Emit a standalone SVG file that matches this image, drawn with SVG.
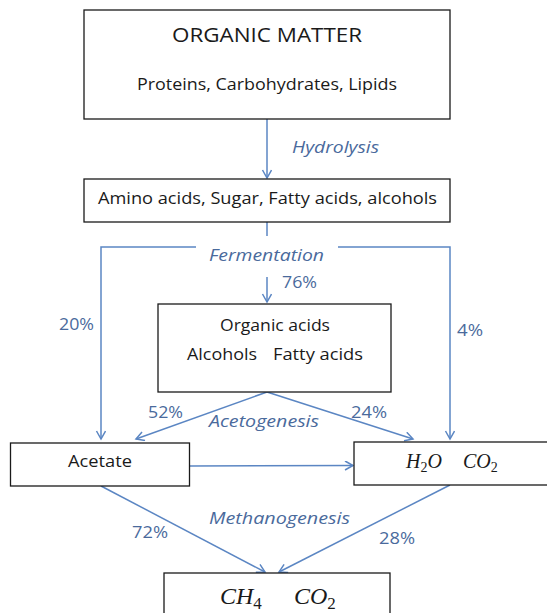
<svg xmlns="http://www.w3.org/2000/svg" width="547" height="613" viewBox="0 0 547 613">
<style>
.box{fill:#fff;stroke:#1a1a1a;stroke-width:1.3}
.t{font-family:"Open Sans","Liberation Sans",sans-serif;fill:#1a1a1a;text-anchor:middle}
.tl{font-family:"Open Sans","Liberation Sans",sans-serif;fill:#1a1a1a}
.lbl{font-family:"Open Sans","Liberation Sans",sans-serif;fill:#4A6A9C;font-size:16px}
.it{font-style:italic}
.m{font-family:"Liberation Serif","DejaVu Serif",serif;font-style:italic;fill:#1a1a1a}
.c{fill:none;stroke:#5B86C3;stroke-width:1.5}
</style>
<defs>
<marker id="ah" markerUnits="userSpaceOnUse" markerWidth="12" markerHeight="12" refX="9" refY="5" orient="auto">
<path d="M1,0.5 L9,5 L1,9.5" fill="none" stroke="#5B86C3" stroke-width="1.5"/>
</marker>
</defs>
<rect width="547" height="613" fill="#fff"/>
<g id="connectors">
<path class="c" d="M267,119 V178" marker-end="url(#ah)"/>
<path class="c" d="M267,222 V236"/>
<path class="c" d="M196,247 H101 V439" marker-end="url(#ah)"/>
<path class="c" d="M338,247 H450 V439" marker-end="url(#ah)"/>
<path class="c" d="M267,277 V302" marker-end="url(#ah)"/>
<path class="c" d="M267,392 L136,439" marker-end="url(#ah)"/>
<path class="c" d="M267,392 L413,439" marker-end="url(#ah)"/>
<path class="c" d="M190,466 L353,465.5" marker-end="url(#ah)"/>
<path class="c" d="M101,486 L265,572" marker-end="url(#ah)"/>
<path class="c" d="M450,485 L279,572" marker-end="url(#ah)"/>
</g>
<g id="organic-matter">
<rect class="box" x="84" y="10" width="366" height="109"/>
<text class="t" x="267" y="42" font-size="20" textLength="190" lengthAdjust="spacingAndGlyphs">ORGANIC MATTER</text>
<text class="t" x="267" y="90" font-size="16" textLength="260" lengthAdjust="spacingAndGlyphs">Proteins, Carbohydrates, Lipids</text>
</g>
<g id="monomers">
<rect class="box" x="84" y="179" width="366" height="43"/>
<text class="t" x="267.5" y="204" font-size="16" textLength="339" lengthAdjust="spacingAndGlyphs">Amino acids, Sugar, Fatty acids, alcohols</text>
</g>
<g id="organic-acids">
<rect class="box" x="158" y="304" width="233" height="88"/>
<text class="t" x="275" y="331" font-size="16" textLength="110" lengthAdjust="spacingAndGlyphs">Organic acids</text>
<text class="tl" y="360" font-size="16"><tspan x="187" textLength="70" lengthAdjust="spacingAndGlyphs">Alcohols</tspan><tspan x="273" textLength="90" lengthAdjust="spacingAndGlyphs">Fatty acids</tspan></text>
</g>
<g id="acetate">
<rect class="box" x="10.5" y="443" width="179" height="43"/>
<text class="t" x="100" y="467" font-size="16" textLength="64" lengthAdjust="spacingAndGlyphs">Acetate</text>
</g>
<g id="h2o-co2">
<rect class="box" x="354" y="442" width="200" height="43"/>
<text class="m" x="406" y="468" font-size="20">H<tspan font-size="14" dy="4" font-style="normal">2</tspan><tspan dy="-4">O</tspan><tspan x="463">CO</tspan><tspan font-size="14" dy="4" font-style="normal">2</tspan></text>
</g>
<g id="ch4-co2">
<rect class="box" x="164" y="573" width="226" height="50"/>
<text class="m" x="220" y="604" font-size="24">CH<tspan font-size="17" dy="5" font-style="normal">4</tspan><tspan x="294" dy="-5">CO</tspan><tspan font-size="17" dy="5" font-style="normal">2</tspan></text>
</g>
<g id="labels">
<text class="lbl it" x="292" y="153" textLength="87" lengthAdjust="spacingAndGlyphs">Hydrolysis</text>
<text class="lbl it" x="209" y="261" textLength="115" lengthAdjust="spacingAndGlyphs">Fermentation</text>
<text class="lbl" x="282" y="288" textLength="35" lengthAdjust="spacingAndGlyphs">76%</text>
<text class="lbl" x="59" y="330" textLength="35" lengthAdjust="spacingAndGlyphs">20%</text>
<text class="lbl" x="457" y="336" textLength="26" lengthAdjust="spacingAndGlyphs">4%</text>
<text class="lbl" x="148" y="418" textLength="35" lengthAdjust="spacingAndGlyphs">52%</text>
<text class="lbl" x="351" y="418" textLength="36" lengthAdjust="spacingAndGlyphs">24%</text>
<text class="lbl it" x="209" y="427" textLength="110" lengthAdjust="spacingAndGlyphs">Acetogenesis</text>
<text class="lbl it" x="209" y="524" textLength="141" lengthAdjust="spacingAndGlyphs">Methanogenesis</text>
<text class="lbl" x="132" y="538" textLength="36" lengthAdjust="spacingAndGlyphs">72%</text>
<text class="lbl" x="379" y="544" textLength="36" lengthAdjust="spacingAndGlyphs">28%</text>
</g>
</svg>
